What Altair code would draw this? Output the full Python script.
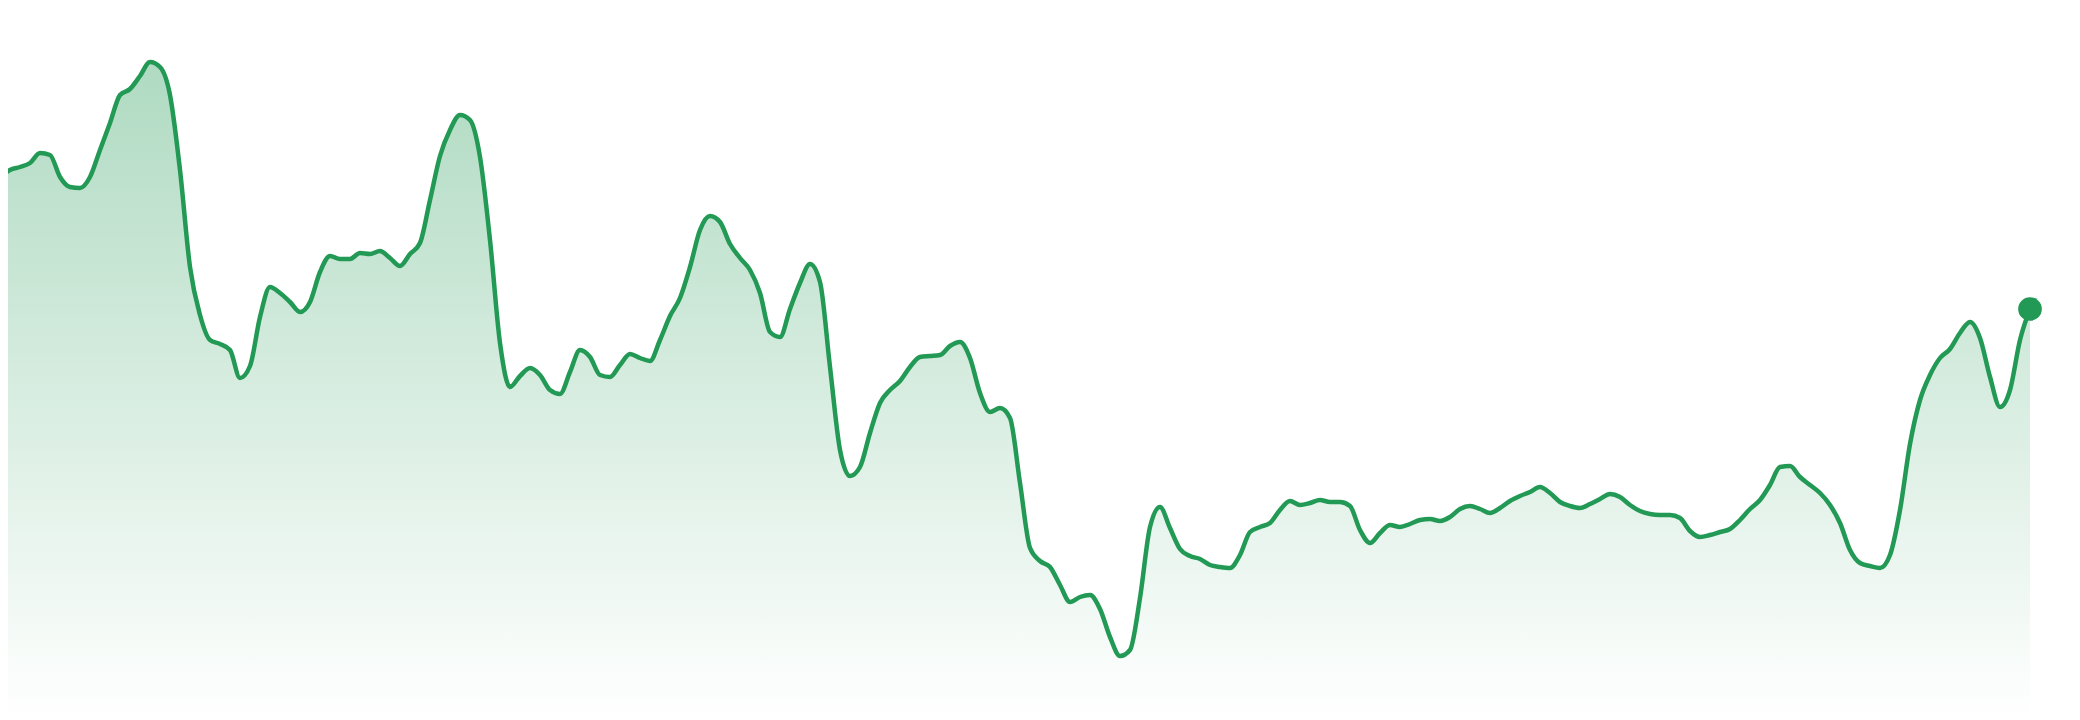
import altair as alt
import pandas as pd

# Values, one every 10 px of the series (204 points)
seg1 = [135.5, 137.5, 138.25, 139.25, 141.75, 141.25, 135.75, 133.25, 133, 135.75,
        142.5, 149.25, 156.25, 157.75, 161, 164.5, 163.25, 156.25, 137.5, 113.25,
        101.25, 95, 94, 92.5, 85.5, 88.5, 100.75, 108.25, 106.75, 104.5,
        102, 104.5, 112, 116, 115.25, 115.25, 116.75, 116.5, 117.25, 115.5,
        113.5, 116.5, 119.25, 130, 141, 147.5, 151.25, 150, 140.75, 120]
seg2 = [94.25, 83.25, 86, 88, 86.25, 82.5, 81.5, 87, 92.5, 90.75,
        86.25, 85.75, 88.75, 91.5, 90.5, 89.75, 95, 101, 105.5, 113.25,
        122.5, 126, 124.5, 119, 115.5, 112.5, 106.75, 97, 95.75, 102.75,
        109.25, 114, 109.5, 88.25, 67.5, 61, 63.25, 71.75, 79.25, 82.5,
        84.75, 88.25, 90.75, 91, 91.25, 93.5, 94.5, 90.5, 81.75, 77]
seg3 = [78, 75.5, 59.25, 43, 39.75, 38.25, 33.75, 29.5, 30.75, 31.25,
        27.75, 20.75, 16, 17.5, 30.5, 48.25, 53.25, 48, 42.75, 41,
        40.25, 38.75, 38.25, 38, 41.25, 47, 48.25, 49.25, 52.5, 54.75,
        53.75, 54.25, 55, 54.5, 54.5, 53.5, 47.5, 44.25, 46.75, 48.75,
        48.25, 49, 50, 50.25, 49.75, 50.75, 52.75, 53.5, 52.75, 51.75]
seg4 = [53, 54.75, 56, 57, 58.25, 56.75, 54.5, 53.5, 53, 54,
        55.25, 56.5, 55.75, 53.75, 52.25, 51.5, 51.25, 51.25, 50.5, 47.25,
        45.75, 46.25, 47, 47.75, 50, 52.75, 55, 58.75, 63.25, 63.5,
        60.75, 58.75, 56.75, 53.75, 49.25, 42.5, 39.25, 38.5, 38, 41.25,
        52.5, 69, 80, 86.25, 90.5, 92.75, 96.75, 99.5, 95.5, 85.75,
        78.25, 82.5, 95, 102.75]

values = seg1 + seg2 + seg3 + seg4
df = pd.DataFrame({"i": list(range(len(values))), "v": values})
last = df.tail(1)

GREEN = "#229954"

x_enc = alt.X("i:Q", axis=None, scale=alt.Scale(domain=[0.8, 205.6], nice=False, zero=False))
y_enc = alt.Y("v:Q", axis=None, scale=alt.Scale(domain=[2, 178], nice=False, zero=False))

area = alt.Chart(df).mark_area(
    interpolate="monotone",
    clip=True,
    color=alt.Gradient(
        gradient="linear",
        stops=[alt.GradientStop(color="rgba(34,153,84,0.36)", offset=0),
               alt.GradientStop(color="rgba(34,153,84,0.0)", offset=1)],
        x1=1, x2=1, y1=0, y2=1,
    ),
).encode(x=x_enc, y=y_enc, y2=alt.datum(0))

line = alt.Chart(df).mark_line(
    interpolate="monotone", clip=True, color=GREEN, strokeWidth=4.5
).encode(x=x_enc, y=y_enc)

dot = alt.Chart(last).mark_circle(color=GREEN, opacity=1, size=560).encode(x=x_enc, y=y_enc)

chart = alt.layer(area, line, dot).properties(
    width=2048, height=704, padding=0, background="white"
).configure_view(stroke=None)

chart.save("out.html", embed_options={"renderer": "svg", "actions": False})
